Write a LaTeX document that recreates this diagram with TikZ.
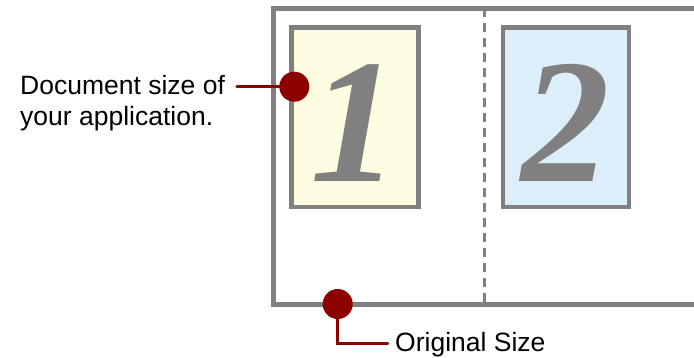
\documentclass[tikz,border=0pt]{standalone}
\usepackage{fontspec}
\setmainfont{Liberation Sans}
\newfontfamily\digitfont{Liberation Serif}
\definecolor{frame}{RGB}{128,128,128}
\definecolor{callout}{RGB}{140,0,0}
\definecolor{pageyellow}{RGB}{255,253,225}
\definecolor{pageblue}{RGB}{221,238,251}
\tikzset{
  pagebox/.style={draw=frame, line width=4.5pt, inner sep=0pt, minimum width=127pt, minimum height=179.5pt},
  digit/.style={text=frame, font=\digitfont\bfseries\itshape\fontsize{177}{177}\selectfont, inner sep=0pt, anchor=base},
  dot/.style={circle, fill=callout, minimum size=30pt, inner sep=0pt},
  lead/.style={draw=callout, line width=3.5pt, line cap=round},
  labeltext/.style={font=\fontsize{26.5}{30.5}\selectfont, inner sep=0pt, align=left}
}
\begin{document}
\begin{tikzpicture}[x=1pt, y=-1pt]
\useasboundingbox[fill=white] (0,0) rectangle (694,358);
% outer frame (open on the right)
\draw[frame, line width=4.5pt] (700,8.3) -- (273.5,8.3) -- (273.5,304.5) -- (700,304.5);
\draw[frame, line width=3pt, dash pattern=on 9pt off 6pt] (484,8.3) -- (484,304.5);
% pages
\node[pagebox, fill=pageyellow] (page1) at (354.8,117.25) {};
\node[pagebox, fill=pageblue, minimum width=126pt] (page2) at (566,117.25) {};
\node[digit] (d1) at (355,182) {1};
\node[digit] (d2) at (566,182) {2};
% callouts
\coordinate (c1) at (294.3,86.7);
\coordinate (c2) at (337.7,304);
\coordinate (l1end) at (237,86.7);
\coordinate (l2corner) at (337.7,343.3);
\coordinate (l2end) at (387.7,343.3);
\node[labeltext, anchor=base west] (lab1) at (20,125.5) {Document size of\\your application.};
\node[labeltext, anchor=base west] (lab2) at (395,352) {Original Size};
\draw[lead] (l1end) -- (c1);
\draw[lead] (c2) -- (l2corner) -- (l2end);
\node[dot] (dot1) at (c1) {};
\node[dot] (dot2) at (c2) {};
\end{tikzpicture}
\end{document}
